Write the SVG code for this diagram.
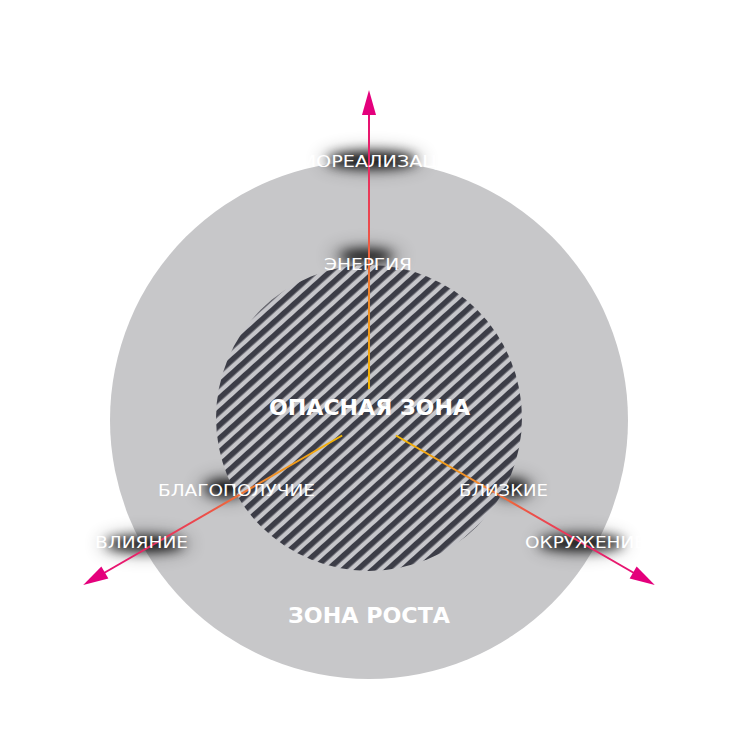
<svg xmlns="http://www.w3.org/2000/svg" width="740" height="740" viewBox="0 0 740 740">
<defs>
<pattern id="hatch" width="10" height="10" patternUnits="userSpaceOnUse" patternTransform="rotate(-42)">
<rect width="10" height="10" fill="#c6c6ca"/>
<rect width="10" height="5.6" fill="#3c3d47"/>
</pattern>
<linearGradient id="axisGrad" gradientUnits="userSpaceOnUse" x1="0" y1="-31" x2="0" y2="-330">
<stop offset="0" stop-color="#f6b800"/>
<stop offset="0.3" stop-color="#f08a2a"/>
<stop offset="0.55" stop-color="#ec4a4c"/>
<stop offset="1" stop-color="#e5007e"/>
</linearGradient>
<filter id="blur" x="-60%" y="-150%" width="220%" height="400%">
<feGaussianBlur stdDeviation="6"/>
</filter>
<filter id="halo" x="-80%" y="-200%" width="260%" height="500%">
<feGaussianBlur stdDeviation="9"/>
</filter>
</defs>
<style>
.lbl{font-family:"DejaVu Sans","Open Sans",sans-serif;font-size:15px;fill:#ffffff;text-anchor:middle}
.big{font-family:"DejaVu Sans","Open Sans",sans-serif;font-size:21px;font-weight:bold;fill:#ffffff;text-anchor:middle}
.shadow{fill:#000000;opacity:0.9;filter:url(#blur)}
.halo{fill:#000000;opacity:0.3;filter:url(#halo)}
.axis{stroke:url(#axisGrad);stroke-width:2;fill:none}
.head{fill:#e4007c}
</style>
<rect width="740" height="740" fill="#ffffff"/>
<g id="growth-zone">
<circle cx="369" cy="420" r="259" fill="#c7c7c9"/>
</g>
<g id="shadows">
<ellipse class="halo" cx="372" cy="160" rx="52" ry="11"/>
<ellipse class="shadow" cx="372" cy="160" rx="44" ry="8"/>
<ellipse class="halo" cx="366" cy="256" rx="36" ry="10"/>
<ellipse class="shadow" cx="366" cy="256" rx="26" ry="6"/>
<ellipse class="halo" cx="226" cy="488" rx="28" ry="12"/>
<ellipse class="shadow" cx="226" cy="488" rx="20" ry="8"/>
<ellipse class="halo" cx="512" cy="488" rx="24" ry="12"/>
<ellipse class="shadow" cx="512" cy="488" rx="16" ry="8"/>
<ellipse class="halo" cx="145" cy="544" rx="46" ry="11"/>
<ellipse class="shadow" cx="145" cy="544" rx="38" ry="7"/>
<ellipse class="halo" cx="581" cy="543" rx="46" ry="11"/>
<ellipse class="shadow" cx="581" cy="543" rx="42" ry="7"/>
</g>
<g id="danger-zone">
<circle cx="369" cy="418" r="153" fill="url(#hatch)"/>
</g>
<g id="connectors">
<g transform="translate(369,420)">
<line class="axis" x1="0" y1="-31" x2="0" y2="-306"/>
<polygon class="head" points="0,-330 -7,-305 7,-305"/>
</g>
<g transform="translate(369,420) rotate(-120)">
<line class="axis" x1="0" y1="-31" x2="0" y2="-306"/>
<polygon class="head" points="0,-330 -7,-305 7,-305"/>
</g>
<g transform="translate(369,420) rotate(120)">
<line class="axis" x1="0" y1="-31" x2="0" y2="-306"/>
<polygon class="head" points="0,-330 -7,-305 7,-305"/>
</g>
</g>
<g id="node-samorealizaciya"><text class="lbl" x="369" y="167" textLength="192" lengthAdjust="spacingAndGlyphs">САМОРЕАЛИЗАЦИЯ</text></g>
<g id="node-energiya"><text class="lbl" x="368" y="270" textLength="88" lengthAdjust="spacingAndGlyphs">ЭНЕРГИЯ</text></g>
<g id="node-opasnaya"><text class="big" x="369.5" y="415" textLength="201" lengthAdjust="spacingAndGlyphs">ОПАСНАЯ ЗОНА</text></g>
<g id="node-blagopoluchie"><text class="lbl" x="236.5" y="496" textLength="157" lengthAdjust="spacingAndGlyphs">БЛАГОПОЛУЧИЕ</text></g>
<g id="node-blizkie"><text class="lbl" x="503.5" y="496" textLength="89" lengthAdjust="spacingAndGlyphs">БЛИЗКИЕ</text></g>
<g id="node-vliyanie"><text class="lbl" x="141.5" y="548" textLength="93" lengthAdjust="spacingAndGlyphs">ВЛИЯНИЕ</text></g>
<g id="node-okruzhenie"><text class="lbl" x="585.5" y="548" textLength="121" lengthAdjust="spacingAndGlyphs">ОКРУЖЕНИЕ</text></g>
<g id="node-rosta"><text class="big" x="369" y="623" textLength="162" lengthAdjust="spacingAndGlyphs">ЗОНА РОСТА</text></g>
</svg>
